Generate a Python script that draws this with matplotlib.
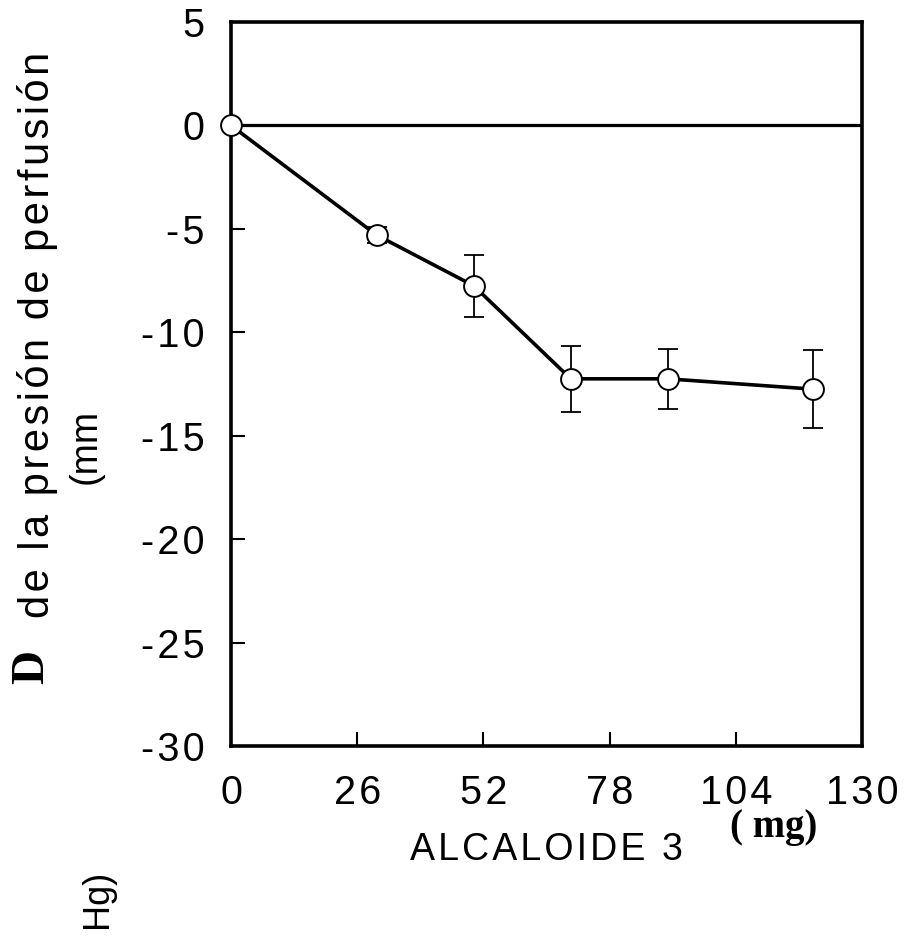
import matplotlib
matplotlib.use("Agg")
import matplotlib.pyplot as plt

dose = [0, 30, 50, 70, 90, 120]
response = [0.0, -5.3, -7.75, -12.25, -12.25, -12.75]
sem = [0.0, 0.4, 1.5, 1.6, 1.45, 1.9]
xticks = [0, 26, 52, 78, 104, 130]
yticks = [5, 0, -5, -10, -15, -20, -25, -30]

plt.rcParams['font.family'] = ['Liberation Sans', 'DejaVu Sans']

HS = '\u200a'


def spaced(s):
    return HS.join(s)


fig = plt.figure(figsize=(9.05, 9.36), dpi=100)
ax = fig.add_axes([231/905, 1-746/936, (862-231)/905, (746-22)/936])

ax.axhline(0, color='black', lw=2.3, zorder=1)
ax.errorbar(dose, response, yerr=sem, fmt='none', ecolor='black',
            elinewidth=1.3, capsize=7, capthick=1.3, zorder=2)
ax.plot(dose, response, color='black', lw=2.6, marker='o', markersize=15,
        markerfacecolor='white', markeredgecolor='black', markeredgewidth=1.4,
        zorder=3, clip_on=False)

ax.set_xlim(0, 130)
ax.set_ylim(-30, 5)
ax.set_xticks(xticks)
ax.set_yticks(yticks)
ax.set_xticklabels([spaced(str(v)) for v in xticks])
ax.set_yticklabels([spaced(str(v)) for v in yticks])
ax.tick_params(direction='in', length=10, width=1.5, labelsize=28.5)
ax.tick_params(axis='y', pad=19)
ax.tick_params(axis='x', pad=20)
for s in ax.spines.values():
    s.set_linewidth(2.6)

fig.text(410/905, 1-850/936, spaced('ALCALOIDE 3'), fontsize=27,
         ha='left', va='center')
fig.text(730/905, 1-828/936, '( mg)', fontsize=28, fontweight='bold',
         family='Liberation Serif', ha='left', va='center')

fig.text(32/905, 1-684/936, 'D', fontsize=34, fontweight='bold',
         family='Liberation Serif', rotation=90, ha='center', va='bottom')
fig.text(38/905, 1-618/936, spaced('de la presión de perfusión'),
         fontsize=30, rotation=90, ha='center', va='bottom')
fig.text(86/905, 1-446/936, '(mm', fontsize=27, rotation=90,
         ha='center', va='center')
fig.text(97/905, 1-870/936, 'Hg)', fontsize=26, rotation=90,
         ha='center', va='top')

fig.savefig('out.png', dpi=100)
